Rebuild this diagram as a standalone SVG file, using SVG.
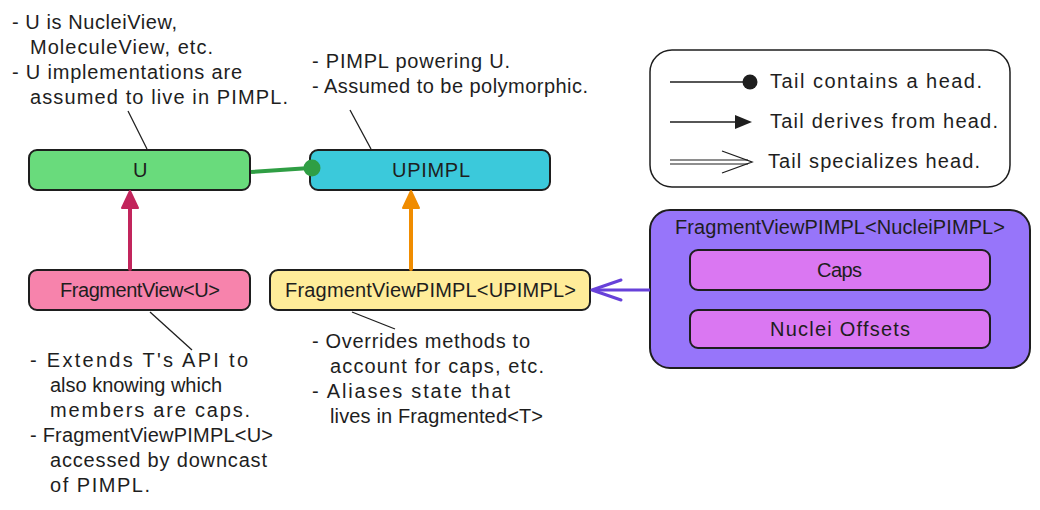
<svg xmlns="http://www.w3.org/2000/svg" width="1040" height="510" viewBox="0 0 1040 510">
<style>
text{font-family:"Liberation Sans",Arial,sans-serif;font-size:20px;fill:#1e1e1e}
.box{stroke:#1e1e1e;stroke-width:2}
.ptr{stroke:#1e1e1e;stroke-width:1.3;fill:none}
</style>
<rect width="1040" height="510" fill="#ffffff"/>
<g id="note-u">
<text x="12" y="29" textLength="165">- U is NucleiView,</text>
<text x="30" y="54" textLength="183">MoleculeView, etc.</text>
<text x="12" y="79" textLength="230">- U implementations are</text>
<text x="30" y="104" textLength="258">assumed to live in PIMPL.</text>
</g>
<g id="note-upimpl">
<text x="312" y="68" textLength="198">- PIMPL powering U.</text>
<text x="312" y="93" textLength="276">- Assumed to be polymorphic.</text>
</g>
<g id="note-fv">
<text x="30" y="367" textLength="218">- Extends T's API to</text>
<text x="50" y="392" textLength="172">also knowing which</text>
<text x="50" y="417" textLength="200">members are caps.</text>
<text x="30" y="442" textLength="243">- FragmentViewPIMPL&lt;U&gt;</text>
<text x="50" y="467" textLength="217">accessed by downcast</text>
<text x="50" y="492" textLength="100">of PIMPL.</text>
</g>
<g id="note-fvpimpl">
<text x="312" y="348" textLength="218">- Overrides methods to</text>
<text x="330" y="373" textLength="214">account for caps, etc.</text>
<text x="312" y="398" textLength="198">- Aliases state that</text>
<text x="330" y="423" textLength="213">lives in Fragmented&lt;T&gt;</text>
</g>
<g id="legend">
<rect x="650" y="50" width="360" height="137" rx="22" fill="#ffffff" stroke="#1e1e1e" stroke-width="1.5"/>
<line x1="670" y1="82" x2="744" y2="82" stroke="#1e1e1e" stroke-width="1.3"/>
<circle cx="750" cy="82" r="7.5" fill="#1e1e1e"/>
<text x="770" y="88" textLength="212">Tail contains a head.</text>
<line x1="670" y1="122" x2="738" y2="122" stroke="#1e1e1e" stroke-width="1.5"/>
<polygon points="735,115 752,122 735,129" fill="#1e1e1e"/>
<text x="770" y="128" textLength="228">Tail derives from head.</text>
<line x1="670" y1="160" x2="748" y2="160" stroke="#1e1e1e" stroke-width="1.2"/>
<line x1="670" y1="164" x2="748" y2="164" stroke="#1e1e1e" stroke-width="1.2"/>
<polyline points="722,151 752,162 722,173" fill="none" stroke="#1e1e1e" stroke-width="1.3"/>
<text x="768" y="168" textLength="212">Tail specializes head.</text>
</g>
<g id="node-u">
<rect class="box" x="29" y="150" width="221" height="40" rx="8" fill="#69db7c"/>
<text x="133" y="177" textLength="13">U</text>
</g>
<g id="node-upimpl">
<rect class="box" x="310" y="150" width="240" height="40" rx="8" fill="#3bc9db"/>
<text x="392" y="177" textLength="78">UPIMPL</text>
</g>
<g id="node-fragmentview">
<rect class="box" x="29" y="270" width="221" height="40" rx="8" fill="#f783ac"/>
<text x="60" y="297" textLength="160">FragmentView&lt;U&gt;</text>
</g>
<g id="node-fvpimpl">
<rect class="box" x="270" y="270" width="320" height="40" rx="8" fill="#ffec99"/>
<text x="285" y="297" textLength="291">FragmentViewPIMPL&lt;UPIMPL&gt;</text>
</g>
<g id="node-nuclei">
<rect class="box" x="650" y="210" width="380" height="158" rx="20" fill="#9775fa"/>
<text x="675" y="234" textLength="330">FragmentViewPIMPL&lt;NucleiPIMPL&gt;</text>
<g id="node-caps">
<rect class="box" x="690" y="250" width="300" height="40" rx="8" fill="#da77f2"/>
<text x="817" y="277" textLength="45">Caps</text>
</g>
<g id="node-offsets">
<rect class="box" x="690" y="310" width="300" height="38" rx="8" fill="#da77f2"/>
<text x="770" y="336" textLength="140">Nuclei Offsets</text>
</g>
</g>
<g id="connectors">
<line class="ptr" x1="128" y1="111" x2="147" y2="149"/>
<line class="ptr" x1="350" y1="110" x2="371" y2="149"/>
<line class="ptr" x1="150" y1="312" x2="192" y2="350" stroke-width="1.6"/>
<line class="ptr" x1="352" y1="312" x2="395" y2="329" stroke-width="1.6"/>
<path d="M251,172 L310,168" stroke="#2f9e44" stroke-width="4" fill="none"/>
<circle cx="312" cy="168" r="8.5" fill="#2f9e44"/>
<line x1="130" y1="269" x2="130" y2="204" stroke="#c2255c" stroke-width="4" stroke-linecap="round"/>
<polygon points="122,208 130,191 138,208" fill="#c2255c" stroke="#c2255c" stroke-width="2" stroke-linejoin="round"/>
<line x1="411" y1="269" x2="411" y2="204" stroke="#f08c00" stroke-width="4" stroke-linecap="round"/>
<polygon points="403,208 411,191 419,208" fill="#f08c00" stroke="#f08c00" stroke-width="2" stroke-linejoin="round"/>
<line x1="650" y1="290" x2="594" y2="290" stroke="#6741d9" stroke-width="3"/>
<polyline points="621,280 592,290 621,300" fill="none" stroke="#6741d9" stroke-width="3" stroke-linecap="round" stroke-linejoin="round"/>
</g>
</svg>
